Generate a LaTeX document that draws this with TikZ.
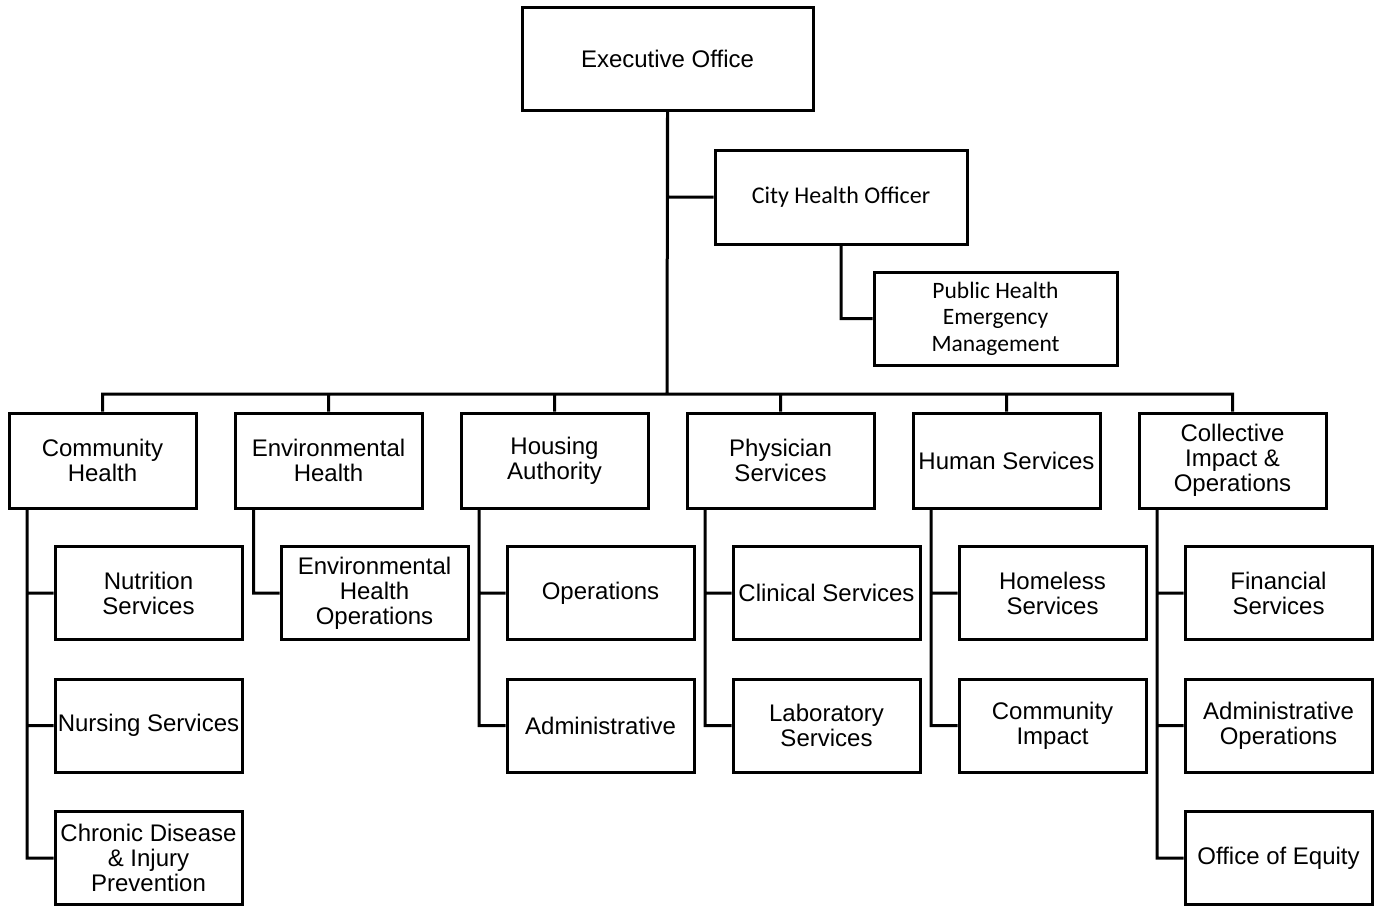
\documentclass[tikz,border=0pt]{standalone}
\usepackage{fontspec}
\setmainfont{Liberation Sans}
\newfontfamily\calibfont{Carlito}
\usepackage{tikz}
\tikzset{
    unit/.style={
           rectangle,
           draw=black, line width=3pt,
           minimum width=187pt,
           minimum height=95pt,
           inner sep=0pt,
           align=center,
           font=\fontsize{24}{25}\selectfont,
           },
    subunit/.style={
           unit,
           minimum height=93pt,
           },
    link/.style={
           draw=black, line width=3pt,
           },
}

\begin{document}
\begin{tikzpicture}[x=1pt,y=1pt]
    \useasboundingbox (0,0) rectangle (1380,-907);

    % top of the chart
    \node[unit,
    minimum width=291pt,
    minimum height=102pt] (exec)
    at (667.5,-59) {Executive Office};

    \node[unit,
    minimum width=252pt,
    minimum height=94pt,
    font=\calibfont\fontsize{24}{26}\selectfont] (cho)
    at (841,-197) {City Health Officer};

    \node[unit,
    minimum width=243pt,
    minimum height=93pt,
    font=\calibfont\fontsize{23.5}{26.5}\selectfont] (phem)
    at (995.5,-318.5) {Public Health\\Emergency\\Management};

    % the six divisions, one next to the other
    \node[unit] (comm) at (102.5,-460.5) {Community\\Health};

    \node[unit,
    right of=comm,
    node distance=226pt] (env)
    {Environmental\\Health};

    \node[unit,
    right of=env,
    node distance=226pt] (hous)
    {Housing\\Authority};

    \node[unit,
    right of=hous,
    node distance=226pt] (phys)
    {Physician\\Services};

    \node[unit,
    right of=phys,
    node distance=226pt] (human)
    {Human Services};

    \node[unit,
    right of=human,
    node distance=226pt] (coll)
    {Collective\\Impact \&\\Operations};

    % units below each division
    \node[subunit] (nutr) at ([shift={(46pt,-132.5pt)}]comm) {Nutrition\\Services};
    \node[subunit, below of=nutr, node distance=132.5pt] (nurs) {Nursing Services};
    \node[subunit, below of=nurs, node distance=132.5pt] (chron) {Chronic Disease\\\& Injury\\Prevention};

    \node[subunit] (envops) at ([shift={(46pt,-132.5pt)}]env) {Environmental\\Health\\Operations};

    \node[subunit] (ops) at ([shift={(46pt,-132.5pt)}]hous) {Operations};
    \node[subunit, below of=ops, node distance=132.5pt] (admin) {Administrative};

    \node[subunit] (clin) at ([shift={(46pt,-132.5pt)}]phys) {Clinical Services};
    \node[subunit, below of=clin, node distance=132.5pt] (lab) {Laboratory\\Services};

    \node[subunit] (homeless) at ([shift={(46pt,-132.5pt)}]human) {Homeless\\Services};
    \node[subunit, below of=homeless, node distance=132.5pt] (impact) {Community\\Impact};

    \node[subunit] (fin) at ([shift={(46pt,-132.5pt)}]coll) {Financial\\Services};
    \node[subunit, below of=fin, node distance=132.5pt] (adminops) {Administrative\\Operations};
    \node[subunit, below of=adminops, node distance=132.5pt] (equity) {Office of Equity};

    % bus line and spines
    \coordinate (bus) at (667,-394);
    \coordinate (commspine) at ([xshift=19.5pt]comm.south west);
    \coordinate (envspine) at ([xshift=20pt]env.south west);
    \coordinate (housspine) at ([xshift=19.5pt]hous.south west);
    \coordinate (physspine) at ([xshift=19.5pt]phys.south west);
    \coordinate (humanspine) at ([xshift=19.5pt]human.south west);
    \coordinate (collspine) at ([xshift=19.5pt]coll.south west);

    % draw the connectors
    \path[link]
        (exec.south) -- (bus)
        (exec.south) |- (cho.west)
        (cho.south) |- (phem.west)
        (bus) -| (comm.north)
        (bus) -| (env.north)
        (bus) -| (hous.north)
        (bus) -| (phys.north)
        (bus) -| (human.north)
        (bus) -| (coll.north)
        (commspine) |- (nutr.west)
        (commspine) |- (nurs.west)
        (commspine) |- (chron.west)
        (envspine) |- (envops.west)
        (housspine) |- (ops.west)
        (housspine) |- (admin.west)
        (physspine) |- (clin.west)
        (physspine) |- (lab.west)
        (humanspine) |- (homeless.west)
        (humanspine) |- (impact.west)
        (collspine) |- (fin.west)
        (collspine) |- (adminops.west)
        (collspine) |- (equity.west)
        ;
\end{tikzpicture}
\end{document}
